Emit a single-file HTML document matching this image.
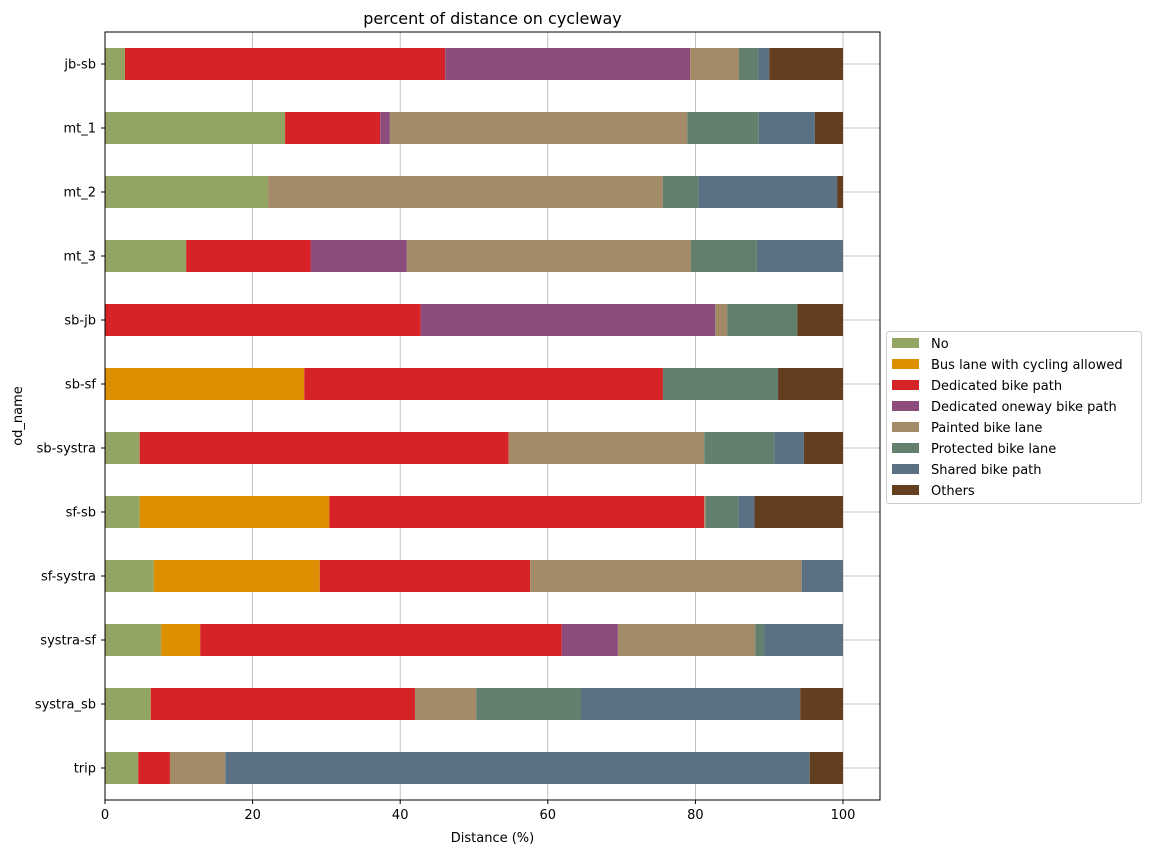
<!DOCTYPE html>
<html><head><meta charset="utf-8"><style>body{margin:0;background:#fff}svg{font-family:"DejaVu Sans","Liberation Sans",sans-serif}</style></head>
<body>
<svg id="c" width="1151" height="855" xmlns="http://www.w3.org/2000/svg"></svg>
<script>
const categories=["jb-sb","mt_1","mt_2","mt_3","sb-jb","sb-sf","sb-systra","sf-sb","sf-systra","systra-sf","systra_sb","trip"];
const seriesNames=["No","Bus lane with cycling allowed","Dedicated bike path","Dedicated oneway bike path","Painted bike lane","Protected bike lane","Shared bike path","Others"];
const colors=["#93a563","#dc8f00","#d62328","#8c4c7c","#a38b68","#637f6d","#5b7183","#643f1f"];
const sNo=[2.7,24.4,22.1,11,0,0,4.7,4.7,6.6,7.6,6.2,4.5];
const sBus=[0,0,0,0,0,27,0,25.7,22.5,5.3,0,0];
const sDed=[43.4,12.9,0,16.9,42.8,48.6,50,50.8,28.5,49,35.8,4.3];
const sOne=[33.2,1.3,0,13,39.9,0,0,0,0,7.6,0,0];
const sPaint=[6.6,40.3,53.5,38.5,1.6,0,26.5,0.2,36.8,18.6,8.3,7.5];
const sProt=[2.6,9.7,4.8,8.9,9.5,15.6,9.5,4.4,0,1.2,14.2,0];
const sShared=[1.5,7.6,18.8,11.7,0,0,4,2.2,5.6,10.7,29.7,79.2];
const sOther=[10,3.8,0.8,0,6.2,8.8,5.3,12,0,0,5.8,4.5];
const xTicks=[0,20,40,60,80,100];
const series=[sNo,sBus,sDed,sOne,sPaint,sProt,sShared,sOther];
const svg=document.getElementById('c');const NS="http://www.w3.org/2000/svg";
const L=105,R=880,T=32,B=800;
const x=v=>L+v*7.38;
const step=(B-T)/categories.length;
const y=i=>T+step*(i+0.5);
function mk(t,a,txt){const e=document.createElementNS(NS,t);for(const k in a)e.setAttribute(k,a[k]);if(txt!==undefined)e.textContent=txt;svg.appendChild(e);return e;}
xTicks.forEach(t=>{const g=mk('line',{x1:x(t),x2:x(t),y1:T,y2:B,stroke:'#b0b0b0','stroke-width':0.8});


mk('line',{x1:x(t),x2:x(t),y1:B,y2:B+4,stroke:'#000'});
const l=mk('text',{x:x(t),y:B+19,'text-anchor':'middle','font-size':13},t);

});
categories.forEach((c,i)=>{const g=mk('line',{x1:L,x2:R,y1:y(i),y2:y(i),stroke:'#b0b0b0','stroke-width':0.8});


mk('line',{x1:L-4,x2:L,y1:y(i),y2:y(i),stroke:'#000'});
const l=mk('text',{x:L-9,y:y(i)+4.5,'text-anchor':'end','font-size':13},c);


let acc=0;series.forEach((s,k)=>{const v=s[i];if(v>0){const r=mk('rect',{x:x(acc),y:y(i)-16,width:x(acc+v)-x(acc),height:32,fill:colors[k]});

}acc+=v;});});
const f=mk('rect',{x:L,y:T,width:R-L,height:B-T,fill:'none',stroke:'#000','stroke-width':1});


const ti=mk('text',{x:(L+R)/2,y:24,'text-anchor':'middle','font-size':16},'percent of distance on cycleway');


const xt=mk('text',{x:(L+R)/2,y:842,'text-anchor':'middle','font-size':13},'Distance (%)');


const yt=mk('text',{x:0,y:0,'text-anchor':'middle','font-size':13,transform:'translate(22,416) rotate(-90)'},'od_name');


const lb=mk('rect',{x:886.5,y:331.5,width:255,height:172,fill:'#fff',stroke:'#ccc',rx:3});


seriesNames.forEach((n,k)=>{const yy=343+k*21;
const sw=mk('rect',{x:892,y:yy-5,width:27,height:10,fill:colors[k]});


const t=mk('text',{x:931,y:yy+5,'font-size':13},n);

});
</script>
</body></html>
